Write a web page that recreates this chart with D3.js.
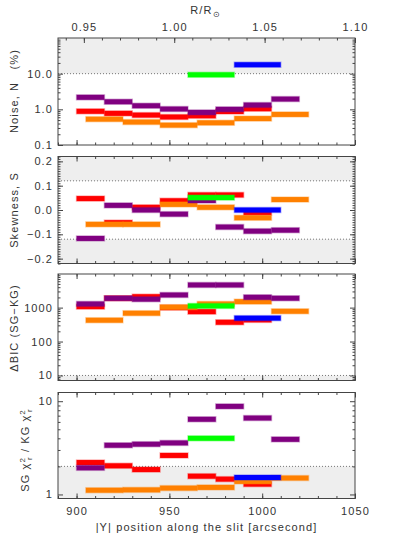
<!DOCTYPE html>
<html>
<head>
<meta charset="utf-8">
<script src="https://cdn.jsdelivr.net/npm/d3@7"></script>
<style>
  body { margin: 0; background: #fff; }
  svg text { font-family: "Liberation Sans", Arial, sans-serif; fill: #333; letter-spacing: 1.1px; }
  .axis path { display: none; }
  .axis line { stroke: #444; }
</style>
</head>
<body>
<script>
// bin edges, arcsec
var binsMain = [900, 915, 930, 945, 960, 975, 990, 1005, 1020];   // purple (8) and red (7)
var binsOrange = [905, 925, 945, 965, 985, 1005, 1025];
var binsGreen = [960, 985];
var binsBlue = [985, 1010];

// Noise N (%)
var noisePurple = [2.17, 1.63, 1.26, 1.02, 0.82, 1.0, 1.32, 1.94];
var noiseRed = [0.88, 0.77, 0.69, 0.61, 0.66, 0.87, 1.04];
var noiseOrange = [0.53, 0.44, 0.36, 0.42, 0.55, 0.72];
var noiseGreen = [9.3];
var noiseBlue = [17.8];

// Skewness S
var skewPurple = [-0.117, 0.019, 0.0, -0.017, 0.039, -0.07, -0.087, -0.083];
var skewRed = [0.047, -0.052, 0.011, 0.038, 0.062, 0.062, -0.011];
var skewOrange = [-0.059, -0.059, 0.023, 0.011, -0.032, 0.043];
var skewGreen = [0.051];
var skewBlue = [0.0];

// delta BIC
var bicPurple = [1285, 1890, 1770, 2360, 4650, 4650, 2020, 1890];
var bicRed = [1070, 1890, 2100, 1000, 760, 370, 435];
var bicOrange = [425, 685, 1030, 1285, 1500, 780];
var bicGreen = [1120];
var bicBlue = [490];

// chi2 ratio
var chiPurple = [1.93, 3.37, 3.46, 3.57, 6.4, 8.8, 6.6, 3.9];
var chiRed = [2.2, 2.03, 1.85, 2.62, 1.57, 1.46, 1.29];
var chiOrange = [1.11, 1.12, 1.17, 1.19, 1.38, 1.5];
var chiGreen = [4.0];
var chiBlue = [1.52];

var xTicks = [900, 950, 1000, 1050];
var rTicks = [0.95, 1.00, 1.05, 1.10];

var W = 413, H = 539;
var left = 58, right = 355;
var colors = { purple: "#800080", red: "#ff0000", orange: "#ff8000", green: "#00ff00", blue: "#0000ff" };

var svg = d3.select("body").append("svg").attr("width", W).attr("height", H);

var x = d3.scaleLinear().domain([890, 1050]).range([left, right]);
var xr = d3.scaleLinear().domain([0.9357, 1.10]).range([left, right]);

function logMinors(dom) {
  var out = [];
  for (var e = -2; e <= 5; e++) {
    for (var m = 2; m <= 9; m++) {
      var v = m * Math.pow(10, e);
      if (v > dom[0] && v < dom[1]) out.push(v);
    }
  }
  return out;
}

function bars(g, y, edges, vals, col) {
  var d = vals.map(function(v, i) { return { x0: edges[i], x1: edges[i + 1], v: v }; });
  g.selectAll(null).data(d).enter().append("rect")
    .attr("x", function(d) { return x(d.x0); })
    .attr("width", function(d) { return x(d.x1) - x(d.x0); })
    .attr("y", function(d) { return y(d.v) - 2.5; })
    .attr("height", 5)
    .attr("fill", col)
    .attr("stroke", col)
    .attr("stroke-opacity", 0.3)
    .attr("stroke-width", 1.5);
}

var panels = [
  { top: 38, bottom: 145, type: "log", dom: [0.1, 100], fmt: d3.format(".1f"),
    major: [0.1, 1, 10], shade: [[10, 100]], lines: [10],
    s: [noisePurple, noiseRed, noiseOrange, noiseGreen, noiseBlue] },
  { top: 156.5, bottom: 263.5, type: "lin", dom: [-0.22, 0.22], fmt: d3.format(".1f"),
    major: [-0.2, -0.1, 0, 0.1, 0.2], shade: [[0.12, 0.22], [-0.22, -0.12]], lines: [0.12, -0.12],
    s: [skewPurple, skewRed, skewOrange, skewGreen, skewBlue] },
  { top: 274, bottom: 380.5, type: "log", dom: [7.1, 9800], fmt: d3.format("d"),
    major: [10, 100, 1000], shade: [[7.1, 10]], lines: [10],
    s: [bicPurple, bicRed, bicOrange, bicGreen, bicBlue] },
  { top: 392.5, bottom: 498.5, type: "log", dom: [0.905, 12.4], fmt: d3.format("d"),
    major: [1, 10], shade: [[0.905, 2]], lines: [2],
    s: [chiPurple, chiRed, chiOrange, chiGreen, chiBlue] }
];

panels.forEach(function(p, idx) {
  var y = (p.type === "log" ? d3.scaleLog() : d3.scaleLinear())
    .domain(p.dom).range([p.bottom, p.top]);
  var g = svg.append("g");

  p.shade.forEach(function(s) {
    g.append("rect").attr("x", left).attr("width", right - left)
      .attr("y", y(s[1])).attr("height", y(s[0]) - y(s[1]))
      .attr("fill", "#eeeeee");
  });
  p.lines.forEach(function(v) {
    g.append("line").attr("x1", left).attr("x2", right)
      .attr("y1", y(v)).attr("y2", y(v))
      .attr("stroke", "#555").attr("stroke-width", 0.8)
      .attr("stroke-dasharray", "1,2");
  });

  // draw order: red, orange, purple, green, blue
  bars(g, y, binsMain, p.s[1], colors.red);
  bars(g, y, binsOrange, p.s[2], colors.orange);
  bars(g, y, binsMain, p.s[0], colors.purple);
  bars(g, y, binsGreen, p.s[3], colors.green);
  bars(g, y, binsBlue, p.s[4], colors.blue);

  // frame
  g.append("rect").attr("x", left).attr("y", p.top)
    .attr("width", right - left).attr("height", p.bottom - p.top)
    .attr("fill", "none").attr("stroke", "#444").attr("stroke-width", 1);

  var minors = p.type === "log" ? logMinors(p.dom) : d3.range(-22, 23).map(function(i) { return i / 100; });

  // left axis
  g.append("g").attr("class", "axis").attr("transform", "translate(" + left + ",0)")
    .call(d3.axisLeft(y).tickValues(p.major).tickSize(-5).tickPadding(5).tickFormat(p.fmt))
    .selectAll("text").style("font-size", "11px").style("font-family", "Liberation Sans, Arial");
  g.append("g").attr("class", "axis").attr("transform", "translate(" + left + ",0)")
    .call(d3.axisLeft(y).tickValues(minors).tickSize(-2.5).tickFormat(""));
  // right axis
  g.append("g").attr("class", "axis").attr("transform", "translate(" + right + ",0)")
    .call(d3.axisRight(y).tickValues(p.major).tickSize(-5).tickFormat(""));
  g.append("g").attr("class", "axis").attr("transform", "translate(" + right + ",0)")
    .call(d3.axisRight(y).tickValues(minors).tickSize(-2.5).tickFormat(""));

  // bottom x axis
  var xb = g.append("g").attr("class", "axis").attr("transform", "translate(0," + p.bottom + ")")
    .call(d3.axisBottom(x).tickValues(xTicks).tickSize(-5).tickPadding(9)
      .tickFormat(idx === 3 ? d3.format("d") : ""));
  xb.selectAll("text").style("font-size", "11px");
  g.append("g").attr("class", "axis").attr("transform", "translate(0," + p.bottom + ")")
    .call(d3.axisBottom(x).tickValues(d3.range(890, 1051, 10)).tickSize(-2.5).tickFormat(""));

  // top axis
  if (idx === 0) {
    var xt = g.append("g").attr("class", "axis").attr("transform", "translate(0," + p.top + ")")
      .call(d3.axisTop(xr).tickValues(rTicks).tickSize(-5).tickPadding(7).tickFormat(d3.format(".2f")));
    xt.selectAll("text").style("font-size", "11px");
    g.append("g").attr("class", "axis").attr("transform", "translate(0," + p.top + ")")
      .call(d3.axisTop(xr).tickValues(d3.range(94, 111).map(function(i) { return i / 100; })).tickSize(-2.5).tickFormat(""));
  } else {
    g.append("g").attr("class", "axis").attr("transform", "translate(0," + p.top + ")")
      .call(d3.axisTop(x).tickValues(xTicks).tickSize(-5).tickFormat(""));
    g.append("g").attr("class", "axis").attr("transform", "translate(0," + p.top + ")")
      .call(d3.axisTop(x).tickValues(d3.range(890, 1051, 10)).tickSize(-2.5).tickFormat(""));
  }
});

// axis titles
function ylabel(cx, cy) {
  return svg.append("text")
    .attr("transform", "translate(" + cx + "," + cy + ") rotate(-90)")
    .attr("text-anchor", "middle")
    .style("font-size", "11px")
    .style("white-space", "pre");
}
ylabel(18, 91).text("Noise, N   (%)");
ylabel(18, 210).text("Skewness, S");
ylabel(18, 328).text("\u0394BIC (SG\u2212KG)");
var chiLab = ylabel(29, 450);
chiLab.append("tspan").text("SG \u03c7");
chiLab.append("tspan").attr("dy", -4).style("font-size", "8px").text("2");
chiLab.append("tspan").attr("dx", -3).attr("dy", 7).style("font-size", "8px").text("r");
chiLab.append("tspan").attr("dy", -3).text(" / KG \u03c7");
chiLab.append("tspan").attr("dy", -4).style("font-size", "8px").text("2");
chiLab.append("tspan").attr("dx", -3).attr("dy", 7).style("font-size", "8px").text("r");

svg.append("text").attr("x", (left + right) / 2 - 1).attr("y", 14)
  .attr("text-anchor", "middle").style("font-size", "11px")
  .text("R/R").append("tspan").attr("dy", 3).style("font-size", "8px").text("\u2299");

svg.append("text").attr("x", (left + right) / 2).attr("y", 531)
  .attr("text-anchor", "middle").style("font-size", "11px")
  .text("|Y| position along the slit [arcsecond]");
</script>
</body>
</html>
